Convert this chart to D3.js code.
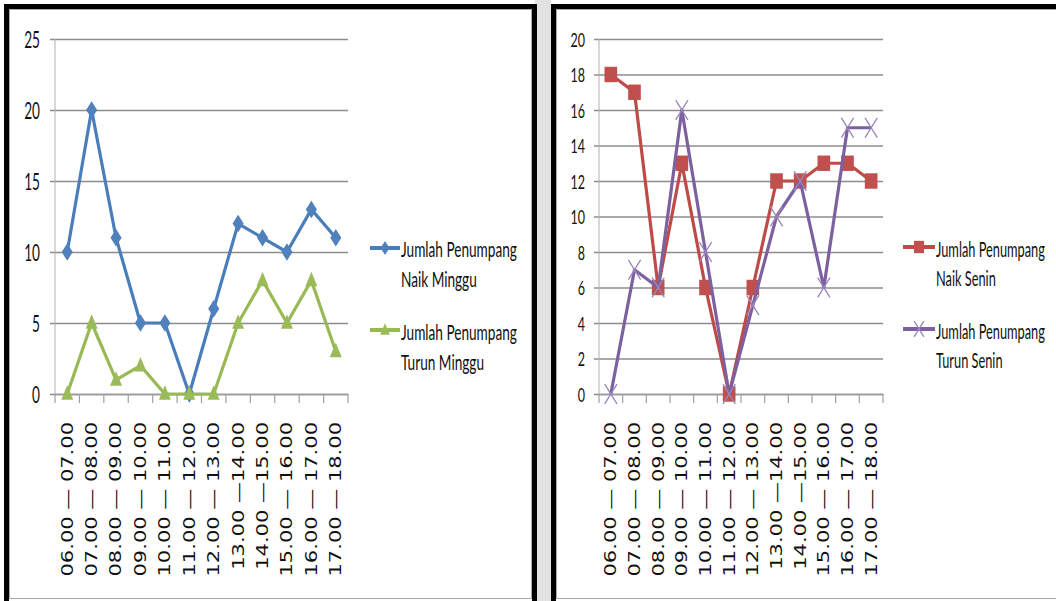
<!DOCTYPE html>
<html>
<head>
<meta charset="utf-8">
<script src="https://cdn.jsdelivr.net/npm/d3@7"></script>
<style>
  html, body { margin: 0; padding: 0; background: #ffffff; }
  svg { display: block; }
</style>
</head>
<body>
<svg id="chart" width="1056" height="601"></svg>
<script>
// Hourly passenger counts, Sunday (Minggu) and Monday (Senin)
const categories = [
  "06.00 — 07.00", "07.00 — 08.00", "08.00 — 09.00", "09.00 — 10.00",
  "10.00 — 11.00", "11.00 — 12.00", "12.00 — 13.00", "13.00 —14.00",
  "14.00 —15.00", "15.00 — 16.00", "16.00 — 17.00", "17.00 — 18.00"
];
const naikMinggu  = [10, 20, 11, 5, 5, 0, 6, 12, 11, 10, 13, 11];
const turunMinggu = [0, 5, 1, 2, 0, 0, 0, 5, 8, 5, 8, 3];
const naikSenin   = [18, 17, 6, 13, 6, 0, 6, 12, 12, 13, 13, 12];
const turunSenin  = [0, 7, 6, 16, 8, 0, 5, 10, 12, 6, 15, 15];

const ticksMinggu = [0, 5, 10, 15, 20, 25];
const ticksSenin  = [0, 2, 4, 6, 8, 10, 12, 14, 16, 18, 20];

const legendMinggu = [["Jumlah Penumpang", "Naik Minggu"], ["Jumlah Penumpang", "Turun Minggu"]];
const legendSenin  = [["Jumlah Penumpang", "Naik Senin"], ["Jumlah Penumpang", "Turun Senin"]];

const svg = d3.select("#chart");

// gap between the two panels
svg.append("rect").attr("x", 535).attr("y", 0).attr("width", 16).attr("height", 601).attr("fill", "#e2e2e2");

// panel frames: thick black outline with a thin grey chart-area border inside
function frame(x, w) {
  svg.append("rect").attr("x", x + 2.5).attr("y", 6.5).attr("width", w).attr("height", 640)
    .attr("fill", "#ffffff").attr("stroke", "#000000").attr("stroke-width", 5);
  svg.append("rect").attr("x", x + 5.5).attr("y", 9.5).attr("width", w - 6).attr("height", 589)
    .attr("fill", "none").attr("stroke", "#a8a8a8").attr("stroke-width", 1);
}
frame(4, 528);
frame(551, 560);

const SERIES_STYLE = {
  diamond:  { line: "#4a7ebb", fill: "#4f81bd" },
  triangle: { line: "#98b954", fill: "#9bbb59" },
  square:   { line: "#be4b48", fill: "#c0504d" },
  times:    { line: "#7d60a0", fill: "#8064a2" }
};

function marker(g, kind, x, y, small) {
  const st = SERIES_STYLE[kind];
  const k = small ? 0.8 : 1;
  if (kind === "diamond") {
    g.append("path").attr("d", d3.symbol(d3.symbolDiamond, 88 * k * k)())
      .attr("transform", `translate(${x},${y}) scale(1.1,1)`).attr("fill", st.fill);
  } else if (kind === "triangle") {
    g.append("path").attr("d", d3.symbol(d3.symbolTriangle, 62 * k * k)())
      .attr("transform", `translate(${x},${y + 1}) scale(1,1.4)`).attr("fill", st.fill);
  } else if (kind === "square") {
    g.append("path").attr("d", d3.symbol(d3.symbolSquare, 160 * k * k)())
      .attr("transform", `translate(${x},${y}) scale(1,1.22)`).attr("fill", st.fill);
  } else {
    const sym = d3.symbolTimes || d3.symbolX;
    g.append("path").attr("d", d3.symbol(sym, 100 * k * k)())
      .attr("transform", `translate(${x},${y}) scale(1,1.6)`)
      .attr("fill", "none").attr("stroke", "#9a86bd").attr("stroke-width", 1.3)
      .attr("vector-effect", "non-scaling-stroke");
  }
}

function drawChart(cfg) {
  const w = cfg.x1 - cfg.x0;
  const g = svg.append("g").attr("transform", `translate(${cfg.x0},0)`);

  const x = d3.scaleBand().domain(categories).range([0, w]).padding(0);
  const y = d3.scaleLinear().domain([0, cfg.max]).range([cfg.yBottom, cfg.yTop]);
  const cx = c => x(c) + x.bandwidth() / 2;

  // horizontal gridlines and value labels
  const ya = g.append("g").call(d3.axisLeft(y).tickValues(cfg.ticks).tickSizeInner(-w).tickSizeOuter(0).tickPadding(0));
  ya.select(".domain").remove();
  ya.selectAll(".tick line").attr("x1", -5).attr("x2", w).attr("stroke", "#8c8c8c").attr("stroke-width", 1.3);
  ya.selectAll(".tick text")
    .attr("x", 0).attr("dy", "0.36em")
    .attr("transform", `translate(${cfg.labelDx},0) scale(${cfg.labelSx},1)`)
    .attr("text-anchor", "end")
    .attr("font-family", "Lato, 'Open Sans', sans-serif")
    .attr("font-size", cfg.labelSize).attr("fill", "#111");

  // vertical axis line
  g.append("line").attr("x1", 0).attr("x2", 0).attr("y1", y(cfg.max)).attr("y2", y(0))
    .attr("stroke", "#b0b0b0").attr("stroke-width", 1);

  // category axis with ticks between categories
  const xa = g.append("g").attr("transform", `translate(0,${y(0)})`)
    .call(d3.axisBottom(x).tickSize(0).tickFormat(""));
  xa.select(".domain").attr("stroke", "#9a9a9a").attr("stroke-width", 1.6);
  const bounds = categories.map(c => x(c)).concat([w]);
  g.selectAll("line.xt").data(bounds).join("line").attr("class", "xt")
    .attr("x1", d => d).attr("x2", d => d).attr("y1", y(0)).attr("y2", y(0) + 9)
    .attr("stroke", "#a0a0a0").attr("stroke-width", 1.2);

  // rotated category labels
  g.selectAll("text.cat").data(categories).join("text").attr("class", "cat")
    .attr("transform", d => `translate(${cx(d)},${cfg.catTop}) rotate(-90) scale(1.4,1)`)
    .attr("dy", "0.36em").attr("text-anchor", "end")
    .attr("font-family", "'DejaVu Sans', Verdana, sans-serif")
    .attr("font-size", 15).attr("fill", "#111")
    .text(d => d);

  // series
  const line = d3.line().x((d, i) => cx(categories[i])).y(d => y(d));
  cfg.series.forEach(s => {
    const st = SERIES_STYLE[s.kind];
    g.append("path").datum(s.values).attr("d", line)
      .attr("fill", "none").attr("stroke", st.line).attr("stroke-width", 3.2)
      .attr("stroke-linejoin", "round");
    s.values.forEach((v, i) => marker(g, s.kind, cx(categories[i]), y(v), false));
  });

  // legend
  cfg.series.forEach((s, k) => {
    const lg = svg.append("g");
    const st = SERIES_STYLE[s.kind];
    const my = cfg.legend.markerY[k];
    lg.append("line").attr("x1", cfg.legend.x0).attr("x2", cfg.legend.x1).attr("y1", my).attr("y2", my)
      .attr("stroke", st.line).attr("stroke-width", 4);
    marker(lg, s.kind, (cfg.legend.x0 + cfg.legend.x1) / 2, my, true);
    const tx = cfg.legend.x1 + 1;
    const lines = s.label.map(t => lg.append("text")
      .attr("x", 0).attr("y", 0)
      .attr("font-family", "Lato, 'Open Sans', sans-serif")
      .attr("font-size", 20.5).attr("fill", "#111").text(t));
    const sx = cfg.legend.width / lines[0].node().getComputedTextLength();
    lines.forEach((t, j) => t.attr("transform",
      `translate(${tx},${cfg.legend.baselines[k][j]}) scale(${sx},1)`));
  });
}

drawChart({
  x0: 55, x1: 348, yTop: 39, yBottom: 394, max: 25, ticks: ticksMinggu,
  labelDx: -15, labelSize: 23.5, labelSx: 0.58, catTop: 422,
  series: [
    { kind: "diamond", values: naikMinggu, label: legendMinggu[0] },
    { kind: "triangle", values: turunMinggu, label: legendMinggu[1] }
  ],
  legend: { x0: 370, x1: 400, width: 116, markerY: [248, 330], baselines: [[257, 287], [340, 370]] }
});

drawChart({
  x0: 599, x1: 883, yTop: 39, yBottom: 394, max: 20, ticks: ticksSenin,
  labelDx: -14, labelSize: 19.5, labelSx: 0.64, catTop: 422,
  series: [
    { kind: "square", values: naikSenin, label: legendSenin[0] },
    { kind: "times", values: turunSenin, label: legendSenin[1] }
  ],
  legend: { x0: 903, x1: 935, width: 109, markerY: [247, 329], baselines: [[257, 286], [339, 368]] }
});
</script>
</body>
</html>
